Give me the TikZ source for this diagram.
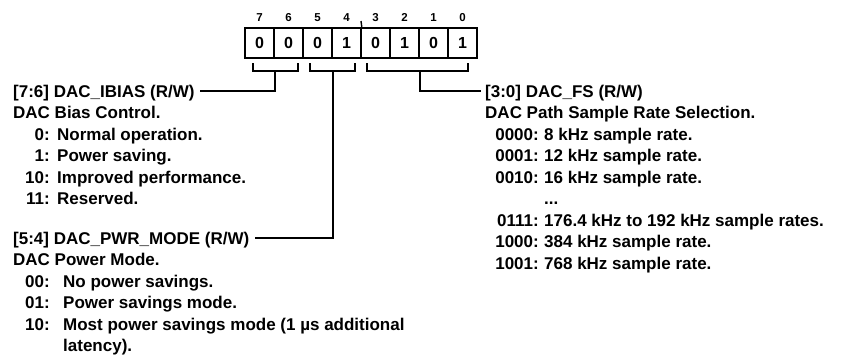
\documentclass[tikz,border=0pt]{standalone}
\usepackage{fontspec}
\setmainfont{Liberation Sans}
\begin{document}
\begin{tikzpicture}[x=1pt,y=-1pt,
  txt/.style={inner sep=0pt,font=\bfseries\fontsize{17}{18}\selectfont,text height=12.2pt,text depth=0pt},
  lbl/.style={txt,anchor=base west},
  num/.style={txt,anchor=base east},
  cell/.style={draw,line width=1.6pt,minimum width=29pt,minimum height=30pt,inner sep=0pt,text height=11.5pt,text depth=0pt,font=\bfseries\fontsize{16}{17}\selectfont},
  bitno/.style={inner sep=0pt,text height=8.3pt,text depth=0pt,font=\bfseries\fontsize{11.5}{12}\selectfont},
  wire/.style={line width=1.8pt}]
\useasboundingbox (0,0) rectangle (843,360);
% register cells
\foreach \b/\v [count=\i from 0] in {7/0,6/0,5/0,4/1,3/0,2/1,1/0,0/1}{
  \node[cell] (c\b) at (259.5+29*\i,43) {\v};
  \node[bitno] (n\b) at (259.5+29*\i,17) {\b};
}
\coordinate (tk) at (361,21);
\draw[line width=1.4pt] (tk) -- (c4.north east);
% brackets
\coordinate (b76) at (275,71);
\coordinate (b54) at (333,71);
\coordinate (b30) at (420,71);
\draw[wire] (253,63) -- (253,71) -- (298,71) -- (298,63);
\draw[wire] (310,63) -- (310,71) -- (355,71) -- (355,63);
\draw[wire] (367,63) -- (367,71) -- (468,71) -- (468,63);
% left block 1
\node[lbl] (t76) at (13,97) {[7:6] DAC\_IBIAS (R/W)};
\node[lbl] (d76) at (13,118.5) {DAC Bias Control.};
\node[num] (k1) at (50,140) {0:};   \node[lbl] (v1) at (57,140) {Normal operation.};
\node[num] (k2) at (50,161.5) {1:}; \node[lbl] (v2) at (57,161.5) {Power saving.};
\node[num] (k3) at (50,183) {10:};  \node[lbl] (v3) at (57,183) {Improved performance.};
\node[num] (k4) at (50,204.5) {11:};\node[lbl] (v4) at (57,204.5) {Reserved.};
% left block 2
\node[lbl] (t54) at (13,244) {[5:4] DAC\_PWR\_MODE (R/W)};
\node[lbl] (d54) at (13,265.5) {DAC Power Mode.};
\node[num] (m1) at (50,287) {00:};   \node[lbl] (w1) at (63,287) {No power savings.};
\node[num] (m2) at (50,308.5) {01:}; \node[lbl] (w2) at (63,308.5) {Power savings mode.};
\node[num] (m3) at (50,330) {10:};   \node[lbl] (w3) at (63,330) {Most power savings mode (1 µs additional};
\node[lbl] (w4) at (63,351.5) {latency).};
% right block
\node[lbl] (t30) at (485,97) {[3:0] DAC\_FS (R/W)};
\node[lbl] (d30) at (485,118.5) {DAC Path Sample Rate Selection.};
\node[num] (r1) at (539,140) {0000:};   \node[lbl] (s1) at (544,140) {8 kHz sample rate.};
\node[num] (r2) at (539,161.5) {0001:}; \node[lbl] (s2) at (544,161.5) {12 kHz sample rate.};
\node[num] (r3) at (539,183) {0010:};   \node[lbl] (s3) at (544,183) {16 kHz sample rate.};
\node[lbl] (s4) at (544,204.5) {...};
\node[num] (r5) at (539,226) {0111:};   \node[lbl] (s5) at (544,226) {176.4 kHz to 192 kHz sample rates.};
\node[num] (r6) at (539,247.5) {1000:}; \node[lbl] (s6) at (544,247.5) {384 kHz sample rate.};
\node[num] (r7) at (539,269) {1001:};   \node[lbl] (s7) at (544,269) {768 kHz sample rate.};
% connectors
\draw[wire] (b76) |- ([xshift=5pt]t76.east);
\draw[wire] (b54) |- ([xshift=5pt]t54.east);
\draw[wire] (b30) |- ([xshift=-4pt]t30.west);
\end{tikzpicture}
\end{document}
